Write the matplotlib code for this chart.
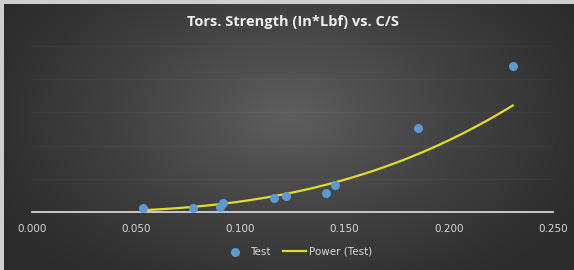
"""Torsional strength vs C/S scatter with power trendline."""
import matplotlib
matplotlib.use("Agg")
import matplotlib.pyplot as plt
import numpy as np

# data
cs = [0.0533, 0.0773, 0.0902, 0.0917, 0.1161, 0.1219, 0.1411, 0.1454, 0.1854, 0.2307]
strength = [5.3, 5.6, 8.0, 13.1, 21.5, 24.5, 28.2, 41.1, 126.0, 220.0]
x_ticks = [0.000, 0.050, 0.100, 0.150, 0.200, 0.250]
y_grid = [50, 100, 150, 200, 250]

W, H = 574, 270
fig = plt.figure(figsize=(W / 100, H / 100), dpi=100)
fig.patch.set_facecolor("#cfcfcf")

# photographed dark background with a soft glow in the middle
bg = fig.add_axes([4 / W, 0, 1 - 4 / W, 1 - 4 / H])
gx, gy = np.meshgrid(np.linspace(0, 1, 300), np.linspace(0, 1, 150))
r = np.sqrt(((gx - 0.5) / 0.6) ** 2 + ((gy - 0.42) / 0.8) ** 2)
shade = np.clip(1 - r, 0, 1) ** 1.2
lo, hi = np.array([0.17, 0.17, 0.17]), np.array([0.37, 0.37, 0.37])
img = lo + shade[..., None] * (hi - lo)
bg.imshow(img, aspect="auto", extent=[0, 1, 0, 1], origin="upper")
bg.set_axis_off()

ax = fig.add_axes([32 / W, 1 - 212 / H, (553 - 32) / W, (212 - 46) / H])
ax.set_facecolor("none")
ax.set_xlim(0, 0.25)
ax.set_ylim(0, 250)

for g in y_grid:
    ax.axhline(g, color="white", alpha=0.045, lw=1, zorder=0)
ax.axhline(0, color="#d4d4d4", lw=1.3, zorder=1, clip_on=False)

# power trendline (Excel style: least squares in log-log space)
b, ln_a = np.polyfit(np.log(cs), np.log(strength), 1)
xs = np.linspace(min(cs), max(cs), 200)
ax.plot(xs, np.exp(ln_a) * xs ** b, color="#e2dc2c", lw=1.6, zorder=3,
        label="Power (Test)")
ax.scatter(cs, strength, s=30, color="#5b9bd5", zorder=4, clip_on=False,
           label="Test")

ax.set_xticks(x_ticks)
ax.set_xticklabels([f"{t:.3f}" for t in x_ticks])
ax.tick_params(axis="x", length=0, pad=9, labelsize=7.5, labelcolor="#d9d9d9")
ax.set_yticks([])
for s in ax.spines.values():
    s.set_visible(False)

fig.text(293 / W, 1 - 22 / H, "Tors. Strength (In*Lbf) vs. C/S",
         ha="center", va="center", fontsize=10.5, fontweight="bold",
         color="#ededed", family="Open Sans")

handles, labels = ax.get_legend_handles_labels()
leg = fig.legend(handles[::-1], labels[::-1], loc="center",
                 bbox_to_anchor=(298 / W, 1 - 252 / H), ncol=2, frameon=False,
                 fontsize=7.5, labelcolor="#d9d9d9", handlelength=2.2,
                 handletextpad=0.3, columnspacing=1.2)

fig.savefig("out.png", dpi=100, facecolor=fig.get_facecolor())
